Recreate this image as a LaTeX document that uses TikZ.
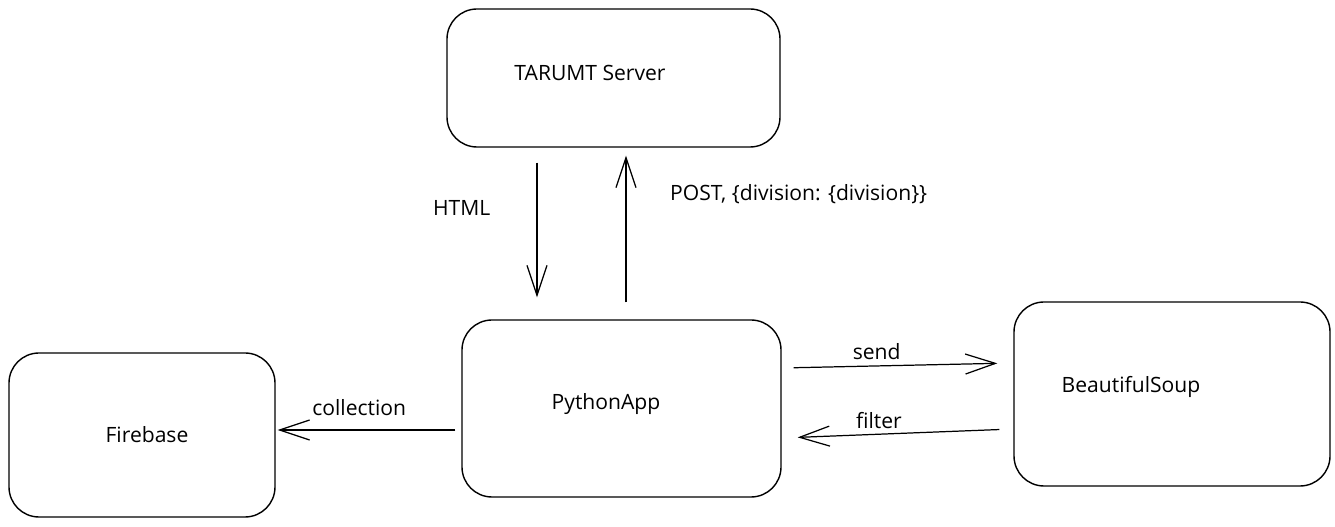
\documentclass[tikz,border=0pt]{standalone}
\usepackage{fontspec}
\setmainfont{Open Sans}
\usetikzlibrary{arrows.meta}
\def\blocks{{(12.27, 8.98)/server/6.66/2.76/-0.47/0.1/TARUMT Server}, {(12.43, 2.37)/python/6.38/3.54/-0.31/0.09/PythonApp}, {(2.84, 1.84)/firebase/5.32/3.28/0.1/0/Firebase}, {(23.44, 2.66)/soup/6.32/3.68/-0.82/0.14/BeautifulSoup}}
\tikzstyle{block}=[draw, line width=0.8pt, rounded corners=0.6cm, inner sep=0pt]
\tikzstyle{flow}=[draw, line width=0.7pt, -{Straight Barb[length=6mm, width=4mm, line width=0.7pt]}]
\tikzstyle{lbl}=[font=\fontsize{12}{14}\selectfont, inner sep=2pt]

\begin{document}
\begin{tikzpicture}
  \useasboundingbox (0, 0) rectangle (26.7, 10.54);

  % The boxes
  \foreach \pos/\name/\w/\h/\dx/\dy/\txt in \blocks {
    \node[block, minimum width=\w cm, minimum height=\h cm,
      label={[lbl, xshift=\dx cm, yshift=\dy cm]center:\txt}] (\name) at \pos {};
    }

  % Server and app
  \path[flow, shorten <=0.3cm, shorten >=0.44cm]
    ([xshift=-1.53cm]server.south) -- ([xshift=-1.53cm]server.south |- python.north)
    node[lbl, pos=0.35, left=0.85cm] (htmlLbl) {HTML};
  \path[flow, shorten <=0.34cm, shorten >=0.16cm]
    ([xshift=0.25cm]server.south |- python.north) -- ([xshift=0.25cm]server.south)
    node[lbl, pos=0.73, right=0.8cm] (postLbl) {POST, \{division: \{division\}\}};

  % App and parser
  \path[flow, shorten <=0.24cm, shorten >=0.32cm]
    ([yshift=0.81cm]python.east) -- ([yshift=0.62cm]soup.west)
    node[lbl, pos=0.41, above=1pt] (sendLbl) {send};
  \path[flow, shorten <=0.28cm, shorten >=0.32cm]
    ([yshift=-0.7cm]soup.west) -- ([yshift=-0.59cm]python.east)
    node[lbl, pos=0.58, above=1pt] (filterLbl) {filter};

  % App and database
  \path[flow, shorten <=0.12cm, shorten >=0.04cm]
    ([yshift=-0.43cm]python.west) -- ([yshift=-0.43cm]python.west -| firebase.east)
    node[lbl, pos=0.55, above=0.2cm] (collLbl) {collection};
\end{tikzpicture}
\end{document}
